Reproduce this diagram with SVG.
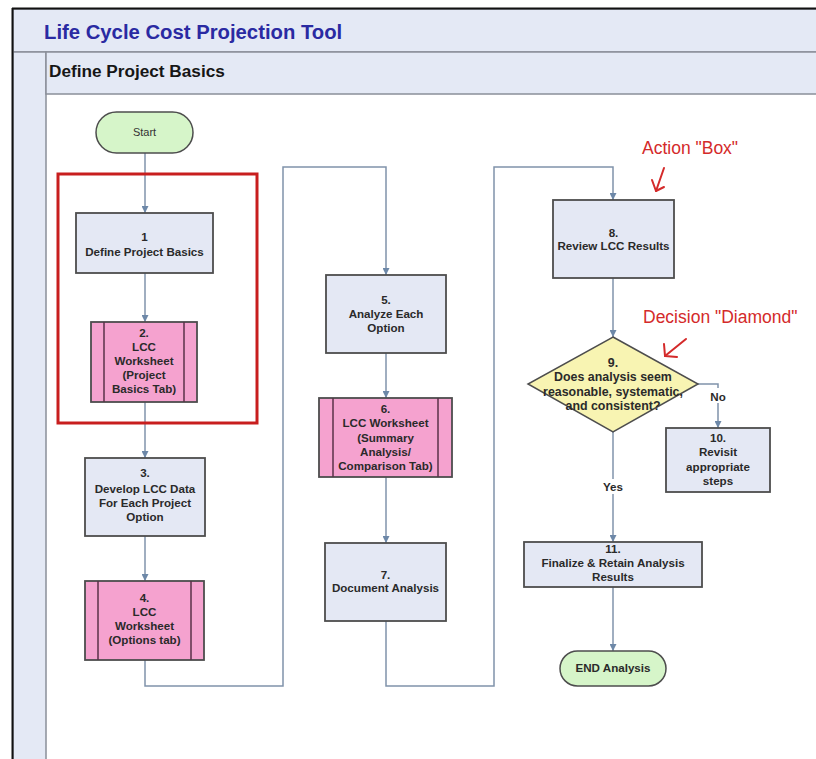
<svg xmlns="http://www.w3.org/2000/svg" width="816" height="759" viewBox="0 0 816 759">
  <defs>
    <marker id="arr" viewBox="0 0 10 10" refX="10" refY="5" markerWidth="7" markerHeight="7" markerUnits="userSpaceOnUse" orient="auto">
      <path d="M0,0 L10,5 L0,10 z" fill="#6d88a8"/>
    </marker>
  </defs>
  <style>
    .lane { fill: #e4e9f5; stroke: #8a8f99; stroke-width: 1.5; }
    .box { fill: #e4e8f4; stroke: #4d4d4d; stroke-width: 1.8; }
    .sub { fill: #f5a2cf; stroke: #4d4d4d; stroke-width: 1.8; }
    .subline { stroke: #5a3048; stroke-width: 1.5; }
    .term { fill: #d6f5c9; stroke: #4d4d4d; stroke-width: 1.5; }
    .dec { fill: #f8f4b2; stroke: #4d4d4d; stroke-width: 1.5; }
    .t { font-family: "Liberation Sans", Arial, sans-serif; font-size: 11.6px; font-weight: bold; fill: #2a2a2a; text-anchor: middle; }
    .td { font-size: 12.4px; }
    .conn { fill: none; stroke: #8093ab; stroke-width: 1.5; }
    .note { font-family: "Liberation Sans", Arial, sans-serif; font-size: 17.5px; fill: #d42a2a; }
    .tick { fill: none; stroke: #d42a2a; stroke-width: 2; stroke-linecap: round; stroke-linejoin: round; }
  </style>

  <!-- page background -->
  <rect x="0" y="0" width="816" height="759" fill="#ffffff"/>

  <!-- swimlane frame -->
  <g id="frame">
    <rect class="lane" x="13" y="9" width="810" height="43"/>
    <rect class="lane" x="13" y="52" width="33" height="712"/>
    <rect class="lane" x="46" y="52" width="777" height="42"/>
    <line x1="12.5" y1="8" x2="12.5" y2="759" stroke="#111" stroke-width="2"/>
    <line x1="12" y1="8.5" x2="816" y2="8.5" stroke="#111" stroke-width="2"/>
    <text x="44" y="39" font-family="Liberation Sans, Arial, sans-serif" font-size="20.3px" font-weight="bold" fill="#2a2aa2">Life Cycle Cost Projection Tool</text>
    <text x="49" y="77" font-family="Liberation Sans, Arial, sans-serif" font-size="17.2px" font-weight="bold" fill="#161616">Define Project Basics</text>
  </g>

  <!-- connectors -->
  <g id="connectors">
    <path class="conn" d="M145,153 V213" marker-end="url(#arr)"/>
    <path class="conn" d="M145,273 V322" marker-end="url(#arr)"/>
    <path class="conn" d="M145,402 V458" marker-end="url(#arr)"/>
    <path class="conn" d="M145,536 V581" marker-end="url(#arr)"/>
    <path class="conn" d="M145,660 V686 H283 V167 H386 V275" marker-end="url(#arr)"/>
    <path class="conn" d="M386,353 V398" marker-end="url(#arr)"/>
    <path class="conn" d="M386,477 V543" marker-end="url(#arr)"/>
    <path class="conn" d="M386,621 V686 H494 V167 H613 V200" marker-end="url(#arr)"/>
    <path class="conn" d="M613,278 V337" marker-end="url(#arr)"/>
    <path class="conn" d="M698,384 H718 V428" marker-end="url(#arr)"/>
    <path class="conn" d="M613,432 V542" marker-end="url(#arr)"/>
    <path class="conn" d="M613,587 V651" marker-end="url(#arr)"/>
    <rect x="707" y="388" width="22" height="15" fill="#ffffff"/>
    <text class="t" x="718" y="401">No</text>
    <rect x="600" y="479" width="26" height="15" fill="#ffffff"/>
    <text class="t" x="613" y="491">Yes</text>
  </g>

  <!-- highlight around steps 1-2 -->
  <rect id="highlight" x="58" y="174" width="199" height="249" fill="none" stroke="#c81e1e" stroke-width="3"/>

  <g id="start">
    <rect class="term" x="96" y="112" width="97" height="41" rx="20.5"/>
    <text x="144.5" y="136" font-family="Liberation Sans, Arial, sans-serif" font-size="11px" fill="#333" text-anchor="middle">Start</text>
  </g>

  <g id="step1">
    <rect class="box" x="76" y="213" width="137" height="60"/>
    <text class="t" x="144.5" y="241">1</text>
    <text class="t" x="144.5" y="256">Define Project Basics</text>
  </g>

  <g id="step2">
    <rect class="sub" x="91" y="322" width="106" height="80"/>
    <line class="subline" x1="104" y1="322" x2="104" y2="402"/>
    <line class="subline" x1="184" y1="322" x2="184" y2="402"/>
    <text class="t" x="144" y="337">2.</text>
    <text class="t" x="144" y="351">LCC</text>
    <text class="t" x="144" y="365">Worksheet</text>
    <text class="t" x="144" y="379">(Project</text>
    <text class="t" x="144" y="393">Basics Tab)</text>
  </g>

  <g id="step3">
    <rect class="box" x="85" y="458" width="120" height="78"/>
    <text class="t" x="145" y="477">3.</text>
    <text class="t" x="145" y="493">Develop LCC Data</text>
    <text class="t" x="145" y="507">For Each Project</text>
    <text class="t" x="145" y="521">Option</text>
  </g>

  <g id="step4">
    <rect class="sub" x="85" y="581" width="119" height="79"/>
    <line class="subline" x1="98" y1="581" x2="98" y2="660"/>
    <line class="subline" x1="191" y1="581" x2="191" y2="660"/>
    <text class="t" x="144.5" y="602">4.</text>
    <text class="t" x="144.5" y="616">LCC</text>
    <text class="t" x="144.5" y="630">Worksheet</text>
    <text class="t" x="144.5" y="644">(Options tab)</text>
  </g>

  <g id="step5">
    <rect class="box" x="326" y="275" width="120" height="78"/>
    <text class="t" x="386" y="304">5.</text>
    <text class="t" x="386" y="318">Analyze Each</text>
    <text class="t" x="386" y="332">Option</text>
  </g>

  <g id="step6">
    <rect class="sub" x="319" y="398" width="133" height="79"/>
    <line class="subline" x1="333" y1="398" x2="333" y2="477"/>
    <line class="subline" x1="438" y1="398" x2="438" y2="477"/>
    <text class="t" x="385.5" y="413">6.</text>
    <text class="t" x="385.5" y="427">LCC Worksheet</text>
    <text class="t" x="385.5" y="442">(Summary</text>
    <text class="t" x="385.5" y="456">Analysis/</text>
    <text class="t" x="385.5" y="470">Comparison Tab)</text>
  </g>

  <g id="step7">
    <rect class="box" x="325" y="543" width="121" height="78"/>
    <text class="t" x="385.5" y="579">7.</text>
    <text class="t" x="385.5" y="592">Document Analysis</text>
  </g>

  <g id="step8">
    <rect class="box" x="553" y="200" width="121" height="78"/>
    <text class="t" x="613.5" y="237">8.</text>
    <text class="t" x="613.5" y="250">Review LCC Results</text>
  </g>

  <g id="step9">
    <polygon class="dec" points="613,337 698,384 613,432 528,384"/>
    <text class="t td" x="613" y="367">9.</text>
    <text class="t td" x="613" y="381">Does analysis seem</text>
    <text class="t td" x="613" y="396">reasonable, systematic,</text>
    <text class="t td" x="613" y="410">and consistent?</text>
  </g>

  <g id="step10">
    <rect class="box" x="666" y="428" width="104" height="64"/>
    <text class="t" x="718" y="442">10.</text>
    <text class="t" x="718" y="456">Revisit</text>
    <text class="t" x="718" y="471">appropriate</text>
    <text class="t" x="718" y="485">steps</text>
  </g>

  <g id="step11">
    <rect class="box" x="524" y="542" width="178" height="45"/>
    <text class="t" x="613" y="553">11.</text>
    <text class="t" x="613" y="567">Finalize &amp; Retain Analysis</text>
    <text class="t" x="613" y="581">Results</text>
  </g>

  <g id="end">
    <rect class="term" x="560" y="651" width="106" height="35" rx="17.5"/>
    <text class="t" x="613" y="672">END Analysis</text>
  </g>

  <!-- callouts -->
  <g id="callouts">
    <text class="note" x="642" y="154">Action "Box"</text>
    <path class="tick" d="M664,168 L656,191"/>
    <path class="tick" d="M652,180 L656,191 L664,187"/>
    <text class="note" x="643" y="323">Decision "Diamond"</text>
    <path class="tick" d="M686,339 L665,356"/>
    <path class="tick" d="M664,344 L665,356 L677,357"/>
  </g>
</svg>
